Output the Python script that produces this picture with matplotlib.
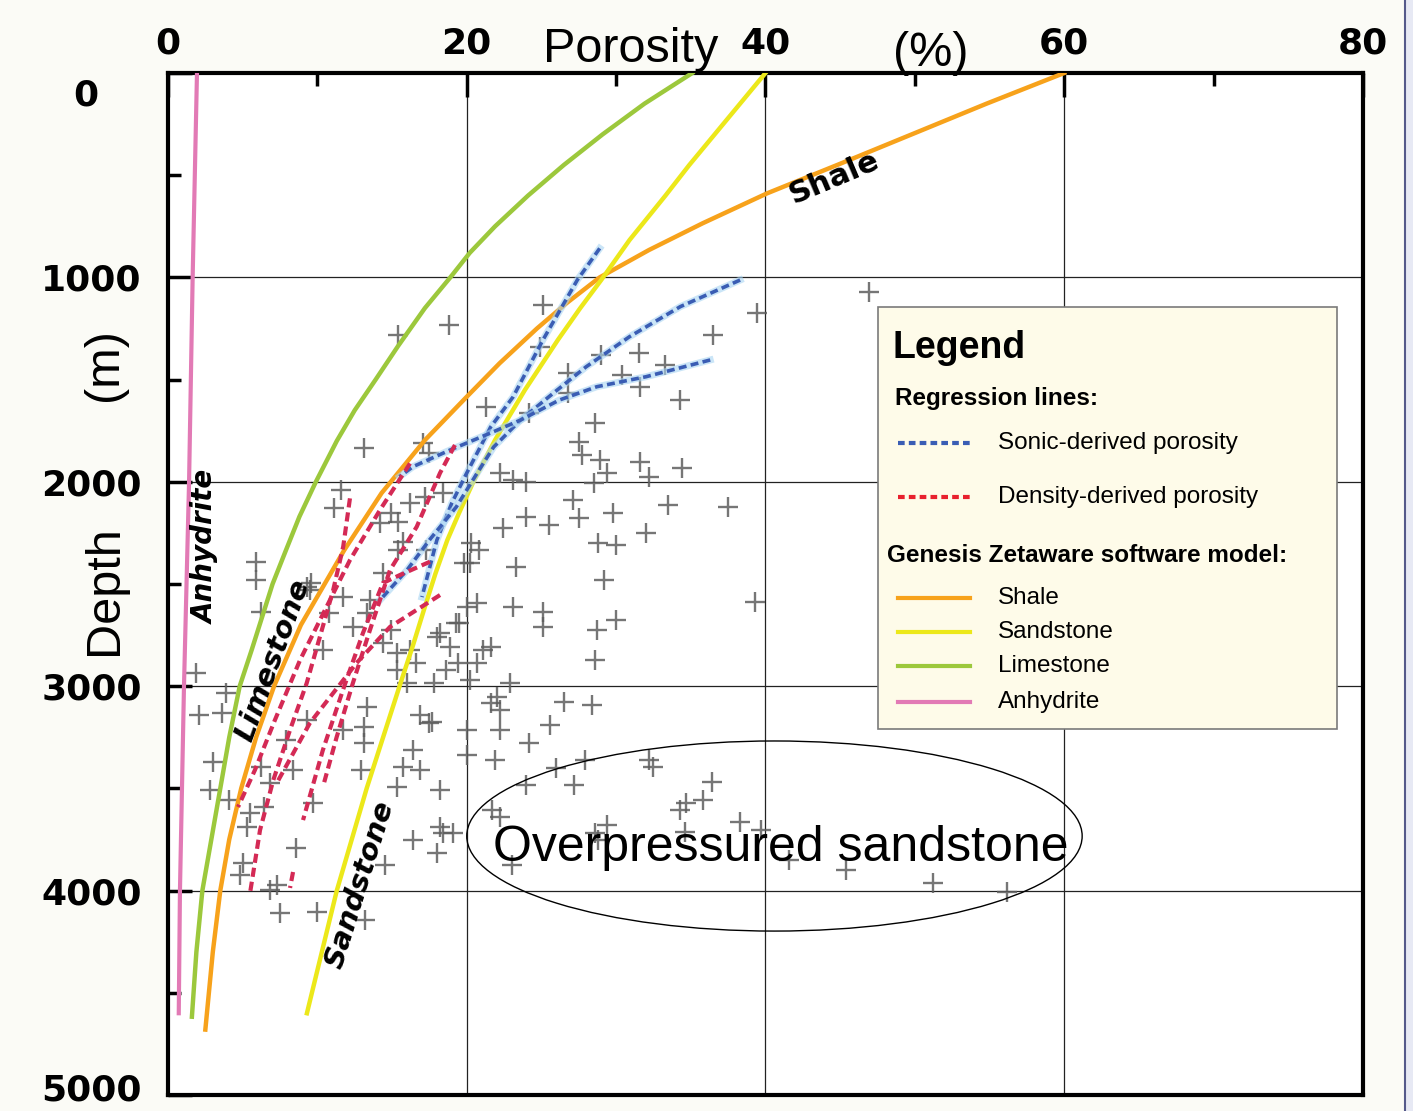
import matplotlib
matplotlib.use("Agg")
import matplotlib.pyplot as plt
from matplotlib.patches import Ellipse, Rectangle
from matplotlib.lines import Line2D

plt.rcParams["font.family"] = ["Liberation Sans", "DejaVu Sans"]

# Genesis Zetaware model curves: depth (m) and porosity (%)
shale_depth = [0, 150, 300, 450, 589, 735, 866, 1000, 1125, 1250, 1420, 1584, 1796, 2055, 2334,
               2700, 3000, 3250, 3500, 3750, 4000, 4300, 4680]
shale_por = [60, 54.8, 49.8, 44.8, 40.1, 35.8, 32.2, 28.9, 26.7, 24.7, 22.2, 20.0, 17.2, 14.3, 11.8,
             8.9, 7.1, 5.9, 4.9, 4.1, 3.5, 3.0, 2.5]

sand_depth = [0, 150, 300, 450, 600, 817, 1013, 1150, 1306, 1550, 1795, 1991, 2150, 2285, 2450,
              2611, 2800, 3000, 3250, 3500, 3750, 4000, 4300, 4600]
sand_por = [40, 38.3, 36.6, 34.9, 33.3, 30.9, 29.0, 27.6, 26.1, 23.9, 21.9, 20.5, 19.5, 18.7, 17.9,
            17.2, 16.4, 15.5, 14.4, 13.3, 12.3, 11.3, 10.3, 9.3]

lime_depth = [0, 150, 300, 450, 600, 750, 880, 1000, 1150, 1336, 1500, 1650, 1800, 2000, 2170,
              2334, 2500, 2823, 3000, 3250, 3500, 3750, 4000, 4300, 4617]
lime_por = [35.1, 31.9, 29.1, 26.5, 24.1, 21.9, 20.2, 18.9, 17.2, 15.4, 13.9, 12.5, 11.3, 9.9, 8.8,
            7.9, 7.0, 5.6, 4.8, 4.1, 3.5, 2.9, 2.3, 1.9, 1.6]

anhy_depth = [0, 1000, 2000, 3000, 4000, 4600]
anhy_por = [1.94, 1.65, 1.41, 1.07, 0.80, 0.72]

# sonic-derived regression lines
sonic_lines = [
    ([858, 1013, 1306, 1585, 1732, 1957, 2104, 2285, 2564],
     [28.9, 27.4, 25.1, 23.1, 21.6, 20.0, 19.0, 18.0, 17.0]),
    ([1013, 1143, 1290, 1437, 1566, 1698, 1830, 1957, 2123, 2285, 2432, 2578],
     [38.3, 34.3, 30.9, 28.0, 25.8, 23.6, 21.8, 20.7, 19.3, 17.5, 16.0, 14.2]),
    ([1404, 1486, 1535, 1600, 1698, 1761, 1844, 1926, 1975],
     [36.3, 32.0, 28.7, 26.2, 23.6, 21.6, 18.9, 16.4, 15.5]),
]

# density-derived regression lines
density_lines = [
    ([2081, 2317, 2529, 2758, 2986, 3214, 3459, 3704, 4013],
     [12.18, 11.73, 11.06, 10.17, 9.28, 8.17, 7.05, 6.16, 5.49]),
    ([1910, 2138, 2383, 2627, 2872, 3165, 3410, 3591],
     [16.2, 14.19, 12.18, 10.51, 8.84, 7.16, 5.82, 4.69]),
    ([1820, 1957, 2220, 2432, 2725, 2984, 3249, 3493],
     [19.21, 18.21, 16.65, 14.86, 13.52, 12.38, 11.29, 10.37]),
    ([2554, 2710, 2886, 3180, 3474],
     [18.21, 14.86, 12.63, 9.50, 7.28]),
    ([2391, 2456, 2495, 2740, 3019, 3312, 3655],
     [17.54, 15.53, 14.39, 13.05, 11.71, 10.37, 9.04]),
    ([3909, 3987],
     [8.37, 8.17]),
]

# measured porosity points (porosity %, depth m)
pts_por = [
    25.1, 18.8, 15.4, 24.9, 29.0, 31.5, 33.3, 30.4, 26.8, 26.8, 31.6, 36.5, 34.3, 39.4, 21.3, 24.2,
    28.6, 27.5, 27.7, 28.9, 29.4, 28.5, 31.6, 32.2, 34.4, 37.5, 33.5, 29.8, 27.1, 27.5, 24.0, 25.5,
    22.4, 24.0, 22.2, 17.5, 17.1, 28.8, 30.0, 32.0, 23.3, 20.8, 20.2, 29.2, 23.1, 25.1, 39.3, 20.7,
    20.0,
    46.9, 25.1, 28.7, 30.0, 28.6, 19.5, 18.2, 21.6, 20.7, 18.6, 22.9, 26.5, 28.4, 21.6, 22.2, 20.0,
    22.2, 25.6, 17.7, 16.9, 24.2, 16.0, 18.9,
    20.0, 21.9, 26.0, 27.9, 24.0, 27.2, 32.5, 32.2, 21.7, 22.2, 34.3, 34.7, 35.8, 36.4, 34.6, 29.4,
    28.6, 28.8, 38.3, 39.7, 41.6, 45.4, 51.2, 56.2, 23.0, 19.1,
    5.9, 5.9, 9.6, 11.7, 14.4, 13.5, 19.8, 6.2, 10.8, 12.4, 19.3, 18.0, 21.1, 15.3, 16.2, 14.4,
    1.9, 20.2, 22.0, 17.8, 3.9, 2.1, 3.6, 17.5, 16.4, 13.1, 12.9, 15.7, 16.9, 15.3, 18.2, 3.0,
    2.8, 4.1, 6.2, 5.5, 5.3, 6.8, 9.7, 18.4, 16.4, 18.0, 8.6, 14.5, 5.0, 4.8, 6.8, 7.3,
    7.5, 10.0, 13.2,
    13.1, 11.6, 11.1, 14.2, 15.4, 17.2, 20.3, 15.4, 9.3, 23.1,
    14.9, 16.2, 18.4, 15.7, 17.3, 9.5, 13.3, 14.9, 16.6, 15.3, 19.4, 10.4, 9.3, 13.3, 13.1, 18.2,
    8.4, 6.4, 11.7, 7.9,
]
pts_depth = [
    1135, 1233, 1282, 1339, 1380, 1371, 1429, 1478, 1469, 1567, 1535, 1282, 1600, 1176, 1633, 1665,
    1714, 1804, 1869, 1893, 1958, 2007, 1902, 1975, 1934, 2122, 2113, 2154, 2089, 2178, 2171, 2211,
    2228, 1999, 1958, 1861, 1812, 2301, 2309, 2252, 2415, 2334, 2399, 2480, 2611, 2635, 2586, 2595,
    2611,
    1070, 2709, 2725, 2676, 2872, 2692, 2741, 2807, 2888, 2921, 2986, 3076, 3092, 3084, 3116, 3214,
    3214, 3190, 3174, 3141, 3278, 2986, 2807,
    3337, 3361, 3402, 3361, 3483, 3483, 3394, 3361, 3606, 3638, 3606, 3573, 3557, 3467, 3712, 3679,
    3720, 3752, 3663, 3704, 3850, 3899, 3965, 4005, 3875, 3720,
    2391, 2480, 2497, 2562, 2448, 2578, 2399, 2635, 2643, 2709, 2692, 2757, 2823, 2839, 2823, 2790,
    2937, 2970, 3051, 2986, 3035, 3141, 3133, 3181, 3312, 3279, 3410, 3394, 3410, 3492, 3508, 3369,
    3508, 3557, 3394, 3622, 3687, 3475, 3573, 3720, 3752, 3818, 3793, 3875, 3866, 3924, 3997, 3973,
    4111, 4103, 4144,
    1836, 2040, 2130, 2203, 2195, 2073, 2301, 2334, 2513, 1991,
    2154, 2105, 2056, 2293, 2334, 2529, 2643, 2725, 2888, 2921, 2888, 2823, 3165, 3100, 3198, 3687,
    3410, 3590, 3214, 3263,
]

x_ticks = [0, 20, 40, 60, 80]
y_ticks = [0, 1000, 2000, 3000, 4000, 5000]

c_shale = "#f7a21b"
c_sand = "#ece81a"
c_lime = "#9cc83c"
c_anhy = "#e27ab5"
c_sonic = "#3a5db4"
c_density = "#d42a55"

fig = plt.figure(figsize=(14.13, 11.11), dpi=100)
fig.patch.set_facecolor("#fbfbf6")
ax = fig.add_axes([0.1189, 0.0144, 0.8457, 0.9199])

ax.set_xlim(0, 80)
ax.set_ylim(5000, 0)

ax.plot(pts_por, pts_depth, ls="none", marker="+", ms=14.5, mew=1.7, color="#5e5e5e", alpha=0.85, zorder=2)

ax.plot(anhy_por, anhy_depth, color=c_anhy, lw=3, zorder=3)
ax.plot(lime_por, lime_depth, color=c_lime, lw=3.2, zorder=3)
ax.plot(shale_por, shale_depth, color=c_shale, lw=3.2, zorder=3)
ax.plot(sand_por, sand_depth, color=c_sand, lw=3.2, zorder=3)

for d, p in sonic_lines:
    ax.plot(p, d, color="#a8d4f2", lw=5, alpha=0.6, zorder=4)
    ax.plot(p, d, color=c_sonic, lw=2.6, ls=(0, (2.2, 1.2)), zorder=4)
for d, p in density_lines:
    ax.plot(p, d, color=c_density, lw=3, ls=(0, (2.2, 1.2)), zorder=4)

# axes styling
ax.xaxis.tick_top()
ax.set_xticks(x_ticks)
ax.set_xticks([10, 30, 50, 70], minor=True)
ax.set_yticks(y_ticks)
ax.set_yticks([500, 1500, 2500, 3500, 4500], minor=True)
ax.set_yticklabels([""] + [str(t) for t in y_ticks[1:-1]] + [""])
ax.tick_params(which="major", direction="in", length=17, width=2.5, labelsize=26)
ax.tick_params(which="minor", direction="in", length=9, width=2.5)
ax.tick_params(axis="x", which="both", top=True, bottom=False, pad=9)
ax.tick_params(axis="y", which="both", left=True, right=False, pad=19)
for lab in ax.get_xticklabels() + ax.get_yticklabels():
    lab.set_fontfamily("DejaVu Sans")
    lab.set_fontweight("bold")
ax.annotate("0", (0, 0), xytext=(-59, -16), textcoords="offset points",
            ha="center", va="center", fontsize=26, fontweight="bold", family="DejaVu Sans")
ax.annotate("5000", (0, 5000), xytext=(-19, 3), textcoords="offset points",
            ha="right", va="center", fontsize=26, fontweight="bold", family="DejaVu Sans")
ax.grid(True, which="major", color="#222222", lw=0.9)
for s in ax.spines.values():
    s.set_linewidth(3)

# curve labels
ax.text(44.6, 514, "Shale", rotation=23, ha="center", va="center", fontsize=22,
        fontweight="bold", family="DejaVu Sans", zorder=5)
ax.text(2.5, 2319, "Anhydrite", rotation=90, ha="center", va="center", fontsize=20,
        fontweight="bold", fontstyle="italic", family="DejaVu Sans", zorder=5)
ax.text(7.0, 2872, "Limestone", rotation=70, ha="center", va="center", fontsize=21,
        fontweight="bold", fontstyle="italic", family="DejaVu Sans", zorder=5)
ax.text(12.85, 3973, "Sandstone", rotation=72.6, ha="center", va="center", fontsize=21,
        fontweight="bold", fontstyle="italic", family="DejaVu Sans", zorder=5)

ax.add_patch(Ellipse((40.6, 3733), 41.2, 930, fill=False, ec="black", lw=1, zorder=5))
ax.text(41.0, 3792, "Overpressured sandstone", ha="center", va="center", fontsize=36, zorder=6)

# axis titles
fig.text(0.3843, 0.9442, "Porosity", ha="left", va="baseline", fontsize=35)
fig.text(0.632, 0.9406, "(%)", ha="left", va="baseline", fontsize=35)
fig.text(0.0743, 0.4689, "Depth", rotation=90, ha="center", va="center", fontsize=35)
fig.text(0.0743, 0.6715, "(m)", rotation=90, ha="center", va="center", fontsize=35)

# legend box
T = ax.transAxes
ax.add_patch(Rectangle((0.5941, 0.3581), 0.3841, 0.4129, transform=T, fc="#fefbe9",
                       ec="#7a7a7a", lw=1.2, zorder=7))
ax.text(0.6059, 0.7211, "Legend", transform=T, fontsize=27, fontweight="bold", va="baseline", zorder=8)
ax.text(0.6084, 0.6751, "Regression lines:", transform=T, fontsize=17.5, fontweight="bold",
        va="baseline", zorder=8)
ax.text(0.6017, 0.5274, "Genesis Zetaware software model:", transform=T, fontsize=17.5,
        fontweight="bold", va="center", zorder=8)

leg_rows = [
    ("Sonic-derived porosity", c_sonic, (0, (1.6, 1.0)), 0.6380),
    ("Density-derived porosity", "#e8202e", (0, (1.6, 1.0)), 0.5851),
    ("Shale", c_shale, "-", 0.4863),
    ("Sandstone", c_sand, "-", 0.4530),
    ("Limestone", c_lime, "-", 0.4198),
    ("Anhydrite", c_anhy, "-", 0.3845),
]
for name, col, ls, yy in leg_rows:
    ax.add_line(Line2D([0.6105, 0.6715], [yy, yy], transform=T, color=col, lw=3, ls=ls, zorder=8))
    ax.text(0.6946, yy, name, transform=T, fontsize=17.5, va="center", zorder=8)

# right edge strip
fig.patches.append(Rectangle((1404 / 1413, 0), 1 - 1404 / 1413, 1, transform=fig.transFigure,
                             fc="#e7e9f4", ec="none"))
fig.lines.append(Line2D([1405 / 1413, 1405 / 1413], [0, 1], transform=fig.transFigure,
                        color="#55598a", lw=1.5))

fig.savefig("out.png", dpi=100, facecolor=fig.get_facecolor())
